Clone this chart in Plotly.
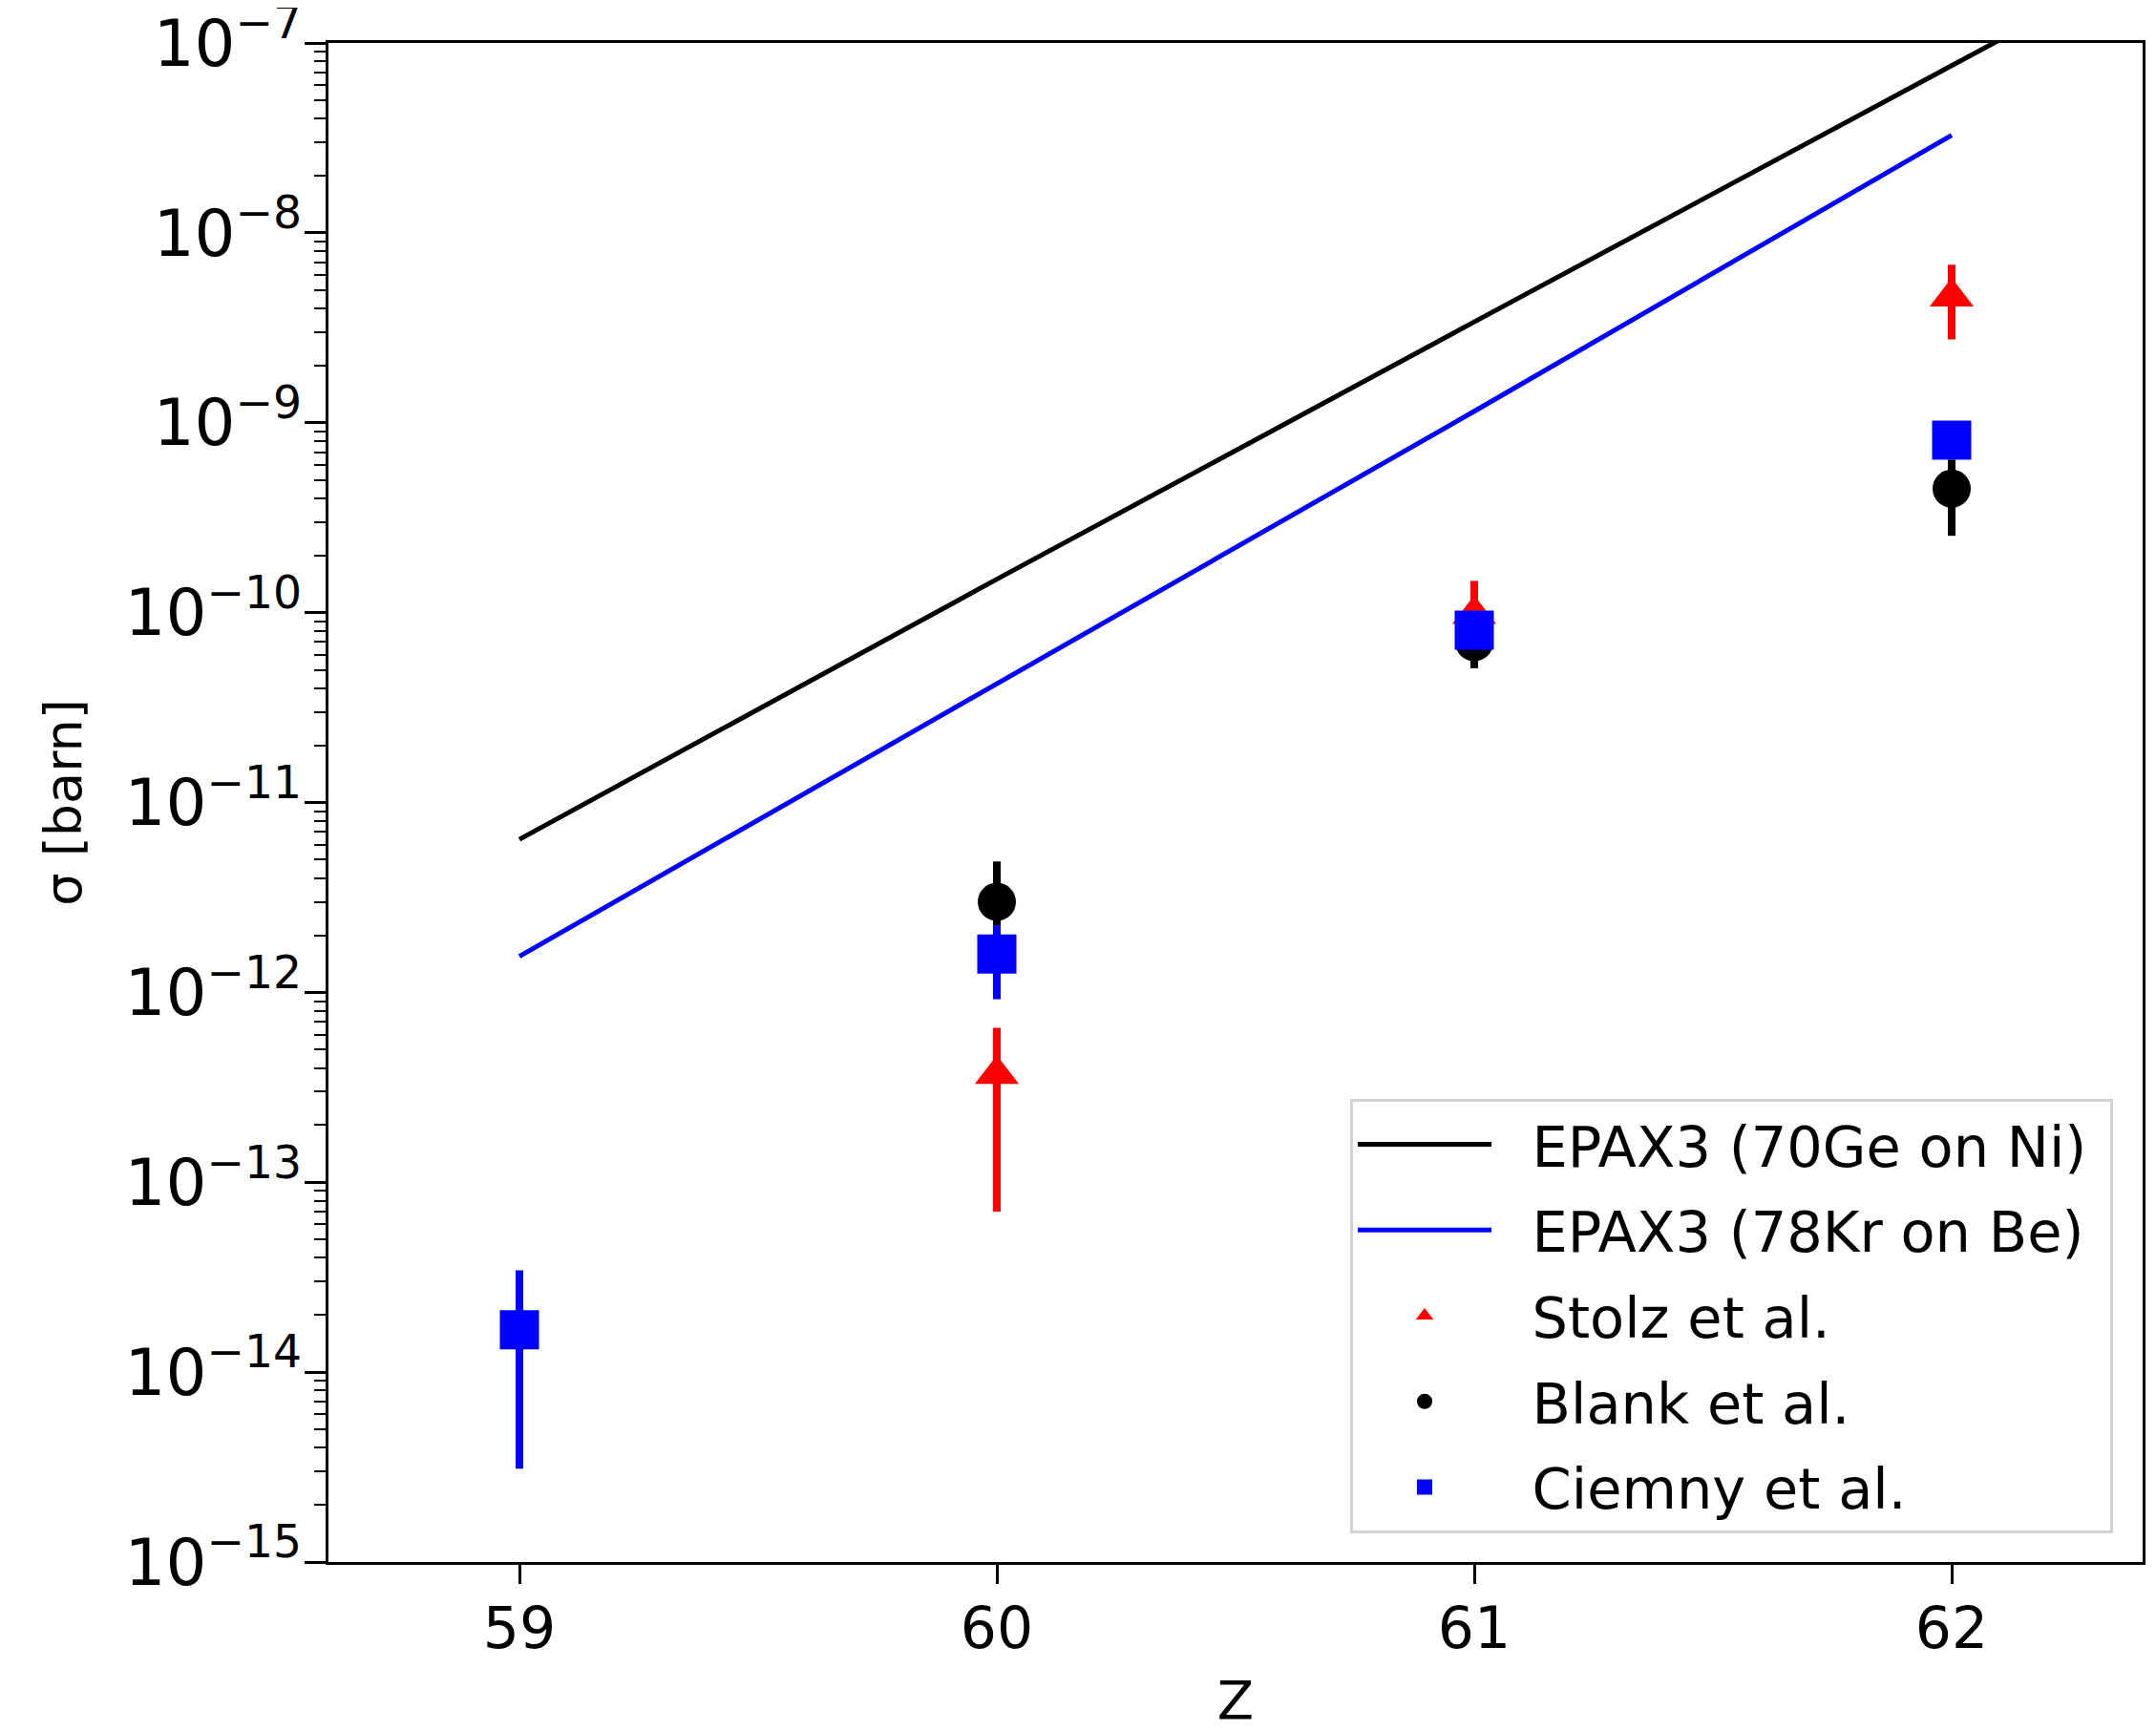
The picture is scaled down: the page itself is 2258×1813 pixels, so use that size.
import plotly.graph_objects as go

# ---- data ----
z_epax = [59, 60, 61, 62, 63]
epax_ge_ni = [6.4e-12, 1.5e-10, 3.4e-9, 7.6e-8, 1.7e-6]
z_epax_kr = [59, 60, 61, 62]
epax_kr_be = [1.55e-12, 4.2e-11, 1.15e-9, 3.27e-8]

z_stolz = [60, 61, 62]
stolz = [3.7e-13, 9.8e-11, 4.6e-9]
stolz_err_plus = [2.8e-13, 4.9e-11, 2.2e-9]
stolz_err_minus = [3.0e-13, 4.5e-11, 1.85e-9]

z_blank = [60, 61, 62]
blank = [3.0e-12, 7.0e-11, 4.5e-10]
blank_err_plus = [1.9e-12, 1.9e-11, 1.9e-10]
blank_err_minus = [1.9e-12, 1.9e-11, 1.96e-10]

z_ciemny = [59, 60, 61, 62]
ciemny = [1.67e-14, 1.59e-12, 8.1e-11, 8.1e-10]
ciemny_err_plus = [1.77e-14, 0.67e-12, 1.0e-11, 1.0e-10]
ciemny_err_minus = [1.36e-14, 0.67e-12, 1.0e-11, 1.0e-10]

x_ticks = [59, 60, 61, 62]

FONT = "DejaVu Sans"
GAP = "\u00a0\u00a0"
TAIL = "\u00a0"

fig = go.Figure()
fig.add_trace(go.Scatter(x=z_epax, y=epax_ge_ni, mode="lines", name=GAP + "EPAX3 (70Ge on Ni)" + TAIL,
                         line=dict(color="#000000", width=5), legendgroup="a"))
fig.add_trace(go.Scatter(x=z_epax_kr, y=epax_kr_be, mode="lines", name=GAP + "EPAX3 (78Kr on Be)" + TAIL,
                         line=dict(color="#0000ff", width=5), legendgroup="b"))
fig.add_trace(go.Scatter(x=z_stolz, y=stolz, mode="markers", name=GAP + "Stolz et al.",
                         marker=dict(symbol="triangle-up", size=40, color="#ff0000"),
                         error_y=dict(type="data", array=stolz_err_plus, arrayminus=stolz_err_minus,
                                      symmetric=False, color="#ff0000", thickness=8, width=0),
                         legendgroup="c"))
fig.add_trace(go.Scatter(x=z_blank, y=blank, mode="markers", name=GAP + "Blank et al.",
                         marker=dict(symbol="circle", size=40, color="#000000"),
                         error_y=dict(type="data", array=blank_err_plus, arrayminus=blank_err_minus,
                                      symmetric=False, color="#000000", thickness=8, width=0),
                         legendgroup="d"))
fig.add_trace(go.Scatter(x=z_ciemny, y=ciemny, mode="markers", name=GAP + "Ciemny et al.",
                         marker=dict(symbol="square", size=41, color="#0000ff"),
                         error_y=dict(type="data", array=ciemny_err_plus, arrayminus=ciemny_err_minus,
                                      symmetric=False, color="#0000ff", thickness=8, width=0),
                         legendgroup="e"))

fig.update_layout(
    width=2250, height=1805,
    margin=dict(l=336, r=14, t=37, b=177, autoexpand=False),
    paper_bgcolor="white", plot_bgcolor="white",
    font=dict(family=FONT, color="black", size=56),
    showlegend=True,
    legend=dict(
        x=0.9837, y=0.019, xanchor="right", yanchor="bottom",
        bgcolor="white", bordercolor="#d3d3d3", borderwidth=3,
        font=dict(family=FONT, size=59, color="black"),
        tracegroupgap=10, traceorder="grouped",
        itemwidth=140,
    ),
)

fig.update_xaxes(
    range=[58.6, 62.4], tickmode="array", tickvals=x_ticks,
    ticks="outside", ticklen=20, tickwidth=3, tickcolor="black",
    showline=True, linecolor="black", linewidth=3, mirror=True,
    showgrid=False, zeroline=False, automargin=False,
    ticklabelstandoff=-5,
    tickfont=dict(family=FONT, size=60),
    title=dict(text="Z", font=dict(family=FONT, size=56), standoff=30),
)
fig.update_yaxes(
    type="log", range=[-15, -6.9995], dtick=1, exponentformat="power", showexponent="all",
    ticks="outside", ticklen=22, tickwidth=3, tickcolor="black",
    minor=dict(ticks="outside", ticklen=12, tickwidth=2, tickcolor="black", dtick="D1", showgrid=False),
    showline=True, linecolor="black", linewidth=3, mirror=True,
    showgrid=False, zeroline=False, automargin=False,
    ticklabeloverflow="allow", ticklabelstandoff=-8,
    tickfont=dict(family=FONT, size=54),
    title=dict(text="σ [barn]", font=dict(family=FONT, size=54), standoff=28),
)

fig.write_html("out.html")
